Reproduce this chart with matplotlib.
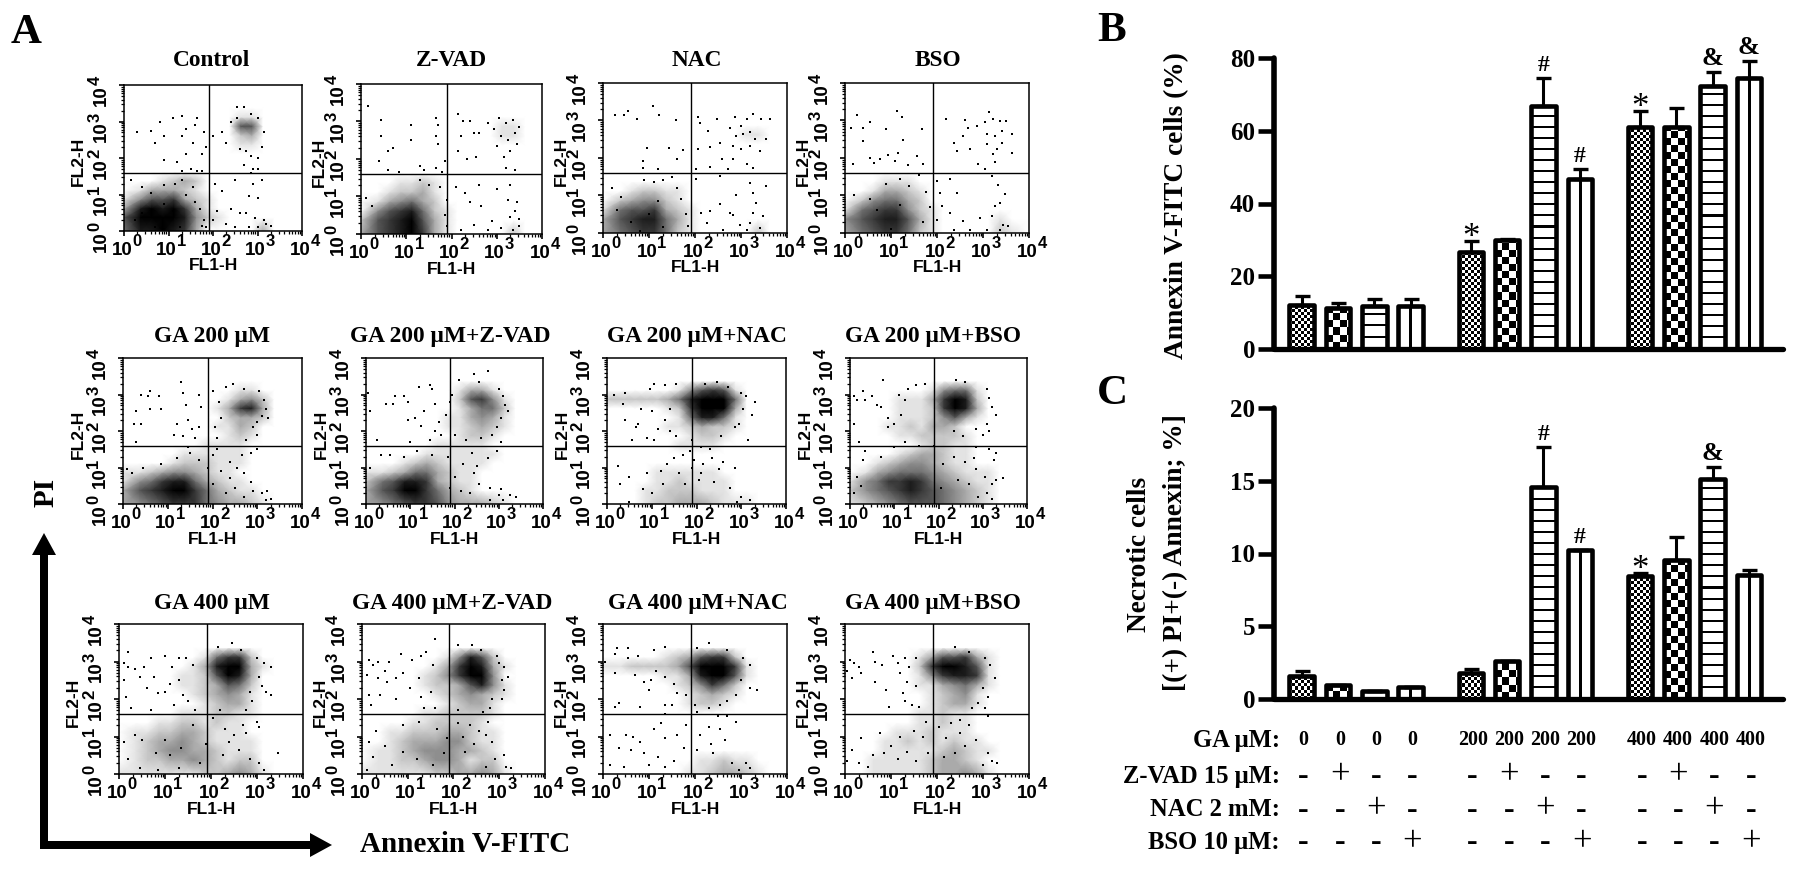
#!/usr/bin/env python3
# Flow cytometry dot plots (A) and annexin / necrosis bar charts (B, C)
import numpy as np
import matplotlib
matplotlib.use("Agg")
import matplotlib.pyplot as plt
from matplotlib.patches import FancyArrow
from matplotlib.ticker import LogLocator, NullFormatter
from matplotlib.transforms import blended_transform_factory

W, H = 1795, 869
SERIF = "Liberation Serif"
SANS = "Liberation Sans"

plt.rcParams["font.family"] = SERIF

# ---- bar chart values
annexin = [12.0, 11.3, 11.8, 11.8, 26.6, 30.1, 66.9, 46.6, 60.9, 60.9, 72.4, 74.4]
annexin_err = [2.5, 1.4, 2.0, 2.0, 3.1, 0.2, 7.6, 2.9, 4.5, 5.4, 3.8, 4.7]
annexin_marks = ["", "", "", "", "*", "", "#", "#", "*", "", "&", "&"]
necrotic = [1.57, 0.93, 0.52, 0.81, 1.8, 2.63, 14.55, 10.25, 8.45, 9.55, 15.15, 8.55]
necrotic_err = [0.33, 0.0, 0.0, 0.0, 0.25, 0.0, 2.75, 0.0, 0.2, 1.55, 0.8, 0.35]
necrotic_marks = ["", "", "", "", "", "", "#", "#", "*", "", "&", ""]
bar_fill = ["fine", "coarse", "hlines", "vlines"] * 3
bar_pos = [0, 1, 2, 3, 4.66, 5.66, 6.66, 7.66, 9.32, 10.32, 11.32, 12.32]

ga_dose = ["0", "0", "0", "0", "200", "200", "200", "200", "400", "400", "400", "400"]
zvad_flag = list("-+---+---+--")
nac_flag = list("--+---+---+-")
bso_flag = list("---+---+---+")
table_rows = ["GA \u03bcM:", "Z-VAD 15 \u03bcM:", "NAC 2 mM:", "BSO 10 \u03bcM:"]

# ---- dot plots: ink darkness (0-9) of the dense clouds, quarter decade cells,
# top row first, and the single events, both in decades (log10 of FL1, FL2)
control_ink = ["", "", "", "000000000011", "000000000066", "000000000023", "000000000011", "", "", "",
               "0001232", "0133321", "14667321", "389897310", "699998421", "5889873000003"]
control_dots = [(0.3, 2.7), (0.6, 2.75), (0.8, 3.0), (1.1, 3.1), (1.3, 3.15), (1.4, 2.8), (0.7, 2.4), (0.9, 2.6),
                (1.3, 2.6), (1.6, 2.9), (1.65, 3.1), (1.55, 2.4), (1.8, 2.7), (0.9, 1.95), (1.2, 1.9), (1.4, 2.1),
                (1.75, 2.1), (1.85, 2.3), (1.3, 1.65), (1.5, 1.7), (1.65, 1.65), (1.75, 1.65), (2.0, 2.6), (2.2, 2.7),
                (2.3, 2.4), (2.4, 3.0), (2.55, 3.4), (2.7, 3.4), (2.55, 3.1), (2.85, 3.2), (3.0, 3.1), (3.15, 2.7),
                (2.6, 2.25), (2.75, 2.2), (2.85, 2.05), (3.0, 2.0), (3.1, 2.3), (2.7, 1.8), (2.9, 1.7), (3.0, 1.7),
                (2.85, 1.6), (2.05, 1.3), (2.2, 1.1), (2.5, 1.4), (2.9, 1.3), (3.1, 1.4), (2.8, 0.95), (3.0, 0.9),
                (2.1, 0.55), (2.4, 0.6), (2.6, 0.5), (2.75, 0.5), (2.95, 0.35), (3.15, 0.3), (3.3, 0.15), (2.3, 0.2),
                (2.5, 0.1), (2.8, 0.1), (3.0, 0.1), (3.2, 0.2), (2.0, 0.3), (1.6, 0.8), (1.7, 0.6), (1.4, 1.0),
                (1.55, 1.2), (1.3, 1.4), (1.15, 1.3), (0.9, 1.25), (0.6, 1.05), (0.15, 1.4), (0.4, 1.2), (1.8, 0.3),
                (1.85, 0.1), (1.75, 0.15), (0.4, 0.5), (0.7, 0.1), (1.1, 0.55), (0.25, 0.3), (1.25, 0.1), (0.9, 0.75)]

zvad_ink = ["", "", "", "", "00000000000011", "00000000000011", "", "", "", "",
            "0001121", "0012231", "0134532", "04678521", "26789631", "36789731000002"]
zvad_dots = [(0.15, 3.4), (0.45, 3.05), (0.45, 2.6), (0.7, 2.3), (0.6, 2.2), (0.4, 1.95), (1.1, 2.9), (1.1, 2.5),
             (1.65, 3.1), (1.7, 2.9), (1.65, 2.6), (1.7, 2.4), (1.85, 1.95), (0.6, 1.7), (0.85, 1.65), (1.3, 1.8),
             (1.4, 1.7), (1.65, 1.75), (1.8, 1.65), (2.15, 3.2), (2.25, 3.0), (2.4, 3.0), (2.2, 2.6), (2.5, 2.7),
             (2.6, 2.7), (2.8, 2.95), (2.95, 2.8), (3.05, 3.1), (3.2, 2.95), (3.35, 3.05), (3.5, 2.85), (3.1, 2.6),
             (3.25, 2.5), (3.4, 2.7), (3.0, 2.35), (3.3, 2.2), (3.15, 2.05), (3.45, 2.4), (2.15, 2.2), (2.55, 2.05),
             (2.35, 2.0), (3.2, 1.75), (3.4, 1.7), (2.1, 1.25), (2.3, 1.1), (2.6, 1.3), (3.0, 1.2), (3.3, 1.3),
             (2.4, 0.85), (2.65, 0.75), (3.25, 0.9), (3.45, 0.85), (3.4, 0.6), (3.3, 0.45), (3.5, 0.4), (2.9, 0.35),
             (2.5, 0.25), (2.2, 0.1), (2.8, 0.1), (3.1, 0.15), (3.35, 0.1), (3.5, 0.2), (1.9, 0.9), (1.75, 1.25),
             (1.5, 1.3), (1.3, 1.45), (1.85, 0.5), (0.1, 0.95), (0.25, 0.75), (1.9, 0.2)]

nac_ink = ["", "", "", "", "", "00000000000011", "", "", "", "",
           "", "0012211", "0234421", "15667321", "36788531", "35677521000002"]
nac_dots = [(0.26, 3.14), (0.45, 3.14), (0.55, 3.26), (0.74, 3.05), (1.08, 3.39), (1.22, 3.14), (1.59, 3.0), (0.95, 2.26),
            (1.44, 2.26), (1.73, 2.2), (0.88, 1.92), (1.6, 1.96), (1.2, 1.7), (0.88, 1.74), (2.06, 3.1), (2.1, 2.93),
            (2.47, 3.05), (2.29, 2.72), (2.76, 2.81), (2.87, 3.08), (3.0, 2.84), (3.12, 3.03), (3.26, 3.17), (3.44, 3.03),
            (3.62, 3.05), (2.9, 2.59), (3.05, 2.63), (3.19, 2.68), (3.3, 2.5), (2.83, 2.32), (3.0, 2.23), (3.19, 2.32),
            (3.41, 2.19), (3.55, 2.5), (2.58, 1.96), (2.83, 1.96), (3.12, 1.83), (3.26, 1.74), (2.07, 2.23), (2.32, 2.28),
            (2.54, 2.41), (2.03, 1.71), (2.32, 1.77), (2.72, 1.71), (2.03, 1.43), (2.54, 1.52), (3.19, 1.34), (3.55, 1.25),
            (3.26, 1.07), (2.9, 1.0), (3.33, 0.8), (2.54, 0.76), (2.12, 0.54), (2.32, 0.58), (2.76, 0.54), (3.26, 0.54),
            (3.48, 0.45), (2.25, 0.27), (2.61, 0.09), (2.97, 0.22), (3.19, 0.27), (3.41, 0.13), (3.12, 0.07), (2.83, 0.49),
            (1.5, 1.5), (1.3, 1.4), (1.1, 1.35), (0.9, 1.4), (0.2, 1.2), (0.4, 0.95), (1.7, 0.9), (1.8, 0.5),
            (1.85, 0.2), (1.6, 1.2), (0.6, 0.3), (1.0, 0.5), (1.3, 0.15), (0.3, 0.6), (1.2, 0.85), (0.8, 0.05)]

bso_ink = ["", "", "", "", "", "", "", "", "", "",
           "0001110", "0013321", "0245532", "15677421", "46788631000001", "356775210000021"]
bso_dots = [(0.25, 3.14), (0.14, 2.79), (0.4, 2.81), (0.54, 2.96), (0.4, 2.46), (0.9, 2.77), (1.12, 3.26), (1.23, 3.08),
            (1.67, 2.77), (1.25, 2.48), (1.15, 2.14), (0.54, 2.0), (0.76, 1.96), (0.94, 2.07), (1.56, 2.05), (0.18, 1.83),
            (0.62, 1.87), (1.09, 1.92), (1.38, 1.8), (1.7, 1.83), (2.19, 3.05), (2.61, 3.02), (2.36, 2.39), (2.43, 2.19),
            (2.57, 2.59), (2.68, 2.79), (2.86, 2.84), (3.04, 2.95), (3.12, 3.23), (3.22, 3.04), (3.37, 2.99), (3.51, 2.99),
            (3.62, 2.63), (3.08, 2.63), (3.26, 2.59), (3.41, 2.72), (3.08, 2.37), (3.3, 2.23), (3.41, 2.41), (3.22, 2.1),
            (3.26, 1.88), (3.62, 2.14), (2.9, 1.83), (3.04, 1.7), (2.72, 2.23), (1.99, 1.38), (2.28, 1.43), (2.43, 1.07),
            (2.07, 1.07), (3.19, 1.52), (3.33, 1.29), (3.48, 1.03), (3.37, 0.8), (3.26, 0.71), (3.19, 0.45), (2.93, 0.4),
            (2.57, 0.31), (2.28, 0.54), (2.1, 0.71), (1.99, 0.36), (2.36, 0.09), (2.72, 0.09), (3.08, 0.07), (3.44, 0.22),
            (3.37, 0.09), (3.55, 0.18), (1.6, 1.55), (1.2, 1.45), (0.9, 1.3), (1.75, 1.1), (1.85, 0.7), (0.2, 1.0),
            (1.4, 1.25), (0.55, 0.9), (1.7, 0.3), (1.0, 0.1), (0.7, 0.6), (1.2, 0.75)]

ga200_ink = ["", "", "", "0000000000110", "0000000001342", "0000000013783", "0000000002332", "0000000011320",
             "000000000121", "00000001111", "00000111111", "00001222111", "1123443211", "14578853211",
             "367899753211", "3456777543321"]
ga200_dots = [(0.4, 3.0), (0.6, 3.1), (0.55, 2.95), (0.8, 2.95), (0.3, 2.55), (0.6, 2.6), (0.85, 2.6), (0.25, 2.2),
              (0.4, 2.2), (1.3, 3.35), (1.35, 3.05), (1.4, 2.7), (1.7, 3.0), (1.75, 2.65), (1.2, 2.2), (1.45, 2.3),
              (1.55, 2.05), (1.7, 2.1), (1.15, 1.9), (1.35, 1.85), (1.6, 1.8), (0.3, 1.7), (2.0, 3.1), (2.15, 2.8),
              (2.3, 3.2), (2.45, 3.3), (2.7, 3.15), (3.05, 3.1), (3.15, 2.85), (3.2, 2.6), (3.1, 2.4), (3.25, 2.35),
              (2.2, 2.35), (2.05, 2.1), (2.9, 2.1), (3.0, 2.25), (2.1, 1.8), (2.75, 1.75), (3.0, 1.9), (3.0, 1.5),
              (2.65, 1.35), (2.85, 1.4), (2.4, 1.15), (2.1, 1.5), (2.55, 1.0), (2.7, 0.85), (2.4, 0.7), (2.2, 0.9),
              (2.85, 0.6), (2.9, 0.35), (3.1, 0.3), (3.2, 0.1), (3.3, 0.15), (3.22, 0.35), (2.5, 0.45), (2.7, 0.2),
              (2.0, 0.55), (2.3, 0.3), (1.9, 1.0), (1.5, 1.4), (1.2, 1.25), (0.85, 1.1), (0.45, 1.0), (0.2, 0.85),
              (0.1, 0.95), (2.0, 1.35), (1.7, 1.2), (1.45, 1.55)]

ga200z_ink = ["", "", "", "000000001331", "0000000026741", "0000000013552", "0000000113431", "0000000112321",
              "000000001221", "00000011111", "000001111111", "00012321111", "1123553211", "2568873211",
              "3679975321", "3456776433321"]
ga200z_dots = [(0.05, 3.05), (0.45, 2.75), (0.6, 2.75), (0.65, 2.95), (0.85, 2.95), (0.95, 2.8), (1.2, 3.2), (1.45, 3.25),
               (1.5, 3.15), (1.55, 2.75), (1.3, 2.55), (1.1, 2.35), (0.95, 2.3), (0.1, 2.55), (0.25, 1.75), (1.25, 2.15),
               (1.55, 2.0), (1.65, 2.25), (1.7, 1.9), (1.45, 1.75), (1.0, 1.7), (1.8, 2.45), (1.9, 2.8), (1.95, 3.0),
               (2.1, 3.4), (2.45, 3.55), (2.75, 3.65), (2.55, 3.35), (3.0, 3.15), (3.1, 2.95), (3.15, 2.7), (3.2, 2.55),
               (3.05, 2.35), (2.95, 2.1), (2.85, 1.9), (3.05, 1.7), (2.0, 1.9), (2.25, 1.75), (2.6, 1.8), (2.4, 1.4),
               (2.75, 1.25), (2.95, 1.45), (2.5, 1.05), (2.2, 1.1), (2.45, 0.85), (2.0, 0.75), (2.55, 0.55), (2.8, 0.45),
               (3.05, 0.4), (3.25, 0.25), (3.4, 0.2), (3.1, 0.1), (2.8, 0.1), (3.0, 0.25), (2.35, 0.3), (1.85, 1.3),
               (1.5, 1.35), (1.15, 1.45), (0.85, 1.3), (0.55, 1.35), (0.35, 1.35), (0.1, 1.0), (1.9, 0.45), (2.15, 0.35)]

ga200n_ink = ["", "", "", "000000146761", "222223589995", "000001279993", "000000158851", "000001123221",
              "00000001221", "0000001111", "", "", "0000111111", "00001121111", "000112221110", "0001223332111"]
ga200n_dots = [(0.15, 3.0), (0.4, 3.05), (0.95, 3.15), (1.05, 3.3), (1.3, 3.25), (1.55, 3.3), (0.35, 2.75), (0.75, 2.6),
               (1.0, 2.55), (1.4, 2.6), (0.4, 2.3), (0.7, 2.2), (0.65, 2.1), (1.3, 2.3), (1.15, 2.05), (1.4, 2.0),
               (0.55, 1.75), (0.9, 1.8), (1.05, 1.75), (1.55, 1.85), (2.2, 3.3), (2.45, 3.35), (2.7, 3.2), (3.0, 3.05),
               (3.1, 2.95), (3.3, 2.8), (3.05, 2.6), (3.25, 2.45), (2.95, 2.2), (2.85, 2.1), (3.15, 1.75), (2.55, 1.85),
               (1.9, 1.75), (2.1, 1.55), (2.3, 1.5), (1.85, 1.45), (2.35, 1.25), (2.6, 1.15), (2.85, 1.0), (2.5, 0.95),
               (2.15, 1.1), (1.95, 1.2), (1.7, 1.35), (1.5, 1.25), (1.35, 1.1), (1.6, 0.85), (1.2, 0.9), (0.9, 0.85),
               (0.25, 1.05), (0.5, 0.75), (0.3, 0.55), (0.8, 0.4), (1.0, 0.3), (1.25, 0.55), (1.75, 0.55), (2.05, 0.65),
               (2.4, 0.6), (2.75, 0.45), (3.0, 0.2), (3.2, 0.1), (2.9, 0.05), (0.5, 0.05), (1.9, 1.0), (2.1, 0.85)]

ga200b_ink = ["", "", "", "000000014551", "000011137982", "000011127983", "0000111246310", "0001121332",
              "00001122221", "00000012211", "00001233211", "00123443211", "0134555432111", "1457787543211",
              "2456787654321", "1234566654321"]
ga200b_dots = [(0.1, 2.95), (0.15, 2.85), (0.3, 3.1), (0.35, 2.85), (0.5, 2.95), (0.6, 2.7), (0.75, 3.4), (1.3, 3.15),
               (1.1, 3.0), (0.7, 2.65), (0.85, 2.35), (0.85, 2.1), (1.0, 2.2), (1.15, 2.45), (1.25, 2.85), (1.5, 3.25),
               (1.7, 3.3), (0.1, 2.2), (0.2, 1.7), (0.35, 1.45), (0.3, 1.2), (2.4, 3.4), (2.6, 3.35), (3.1, 3.15),
               (3.15, 2.9), (3.2, 2.65), (3.3, 2.45), (3.1, 2.2), (3.15, 2.0), (3.0, 1.9), (2.85, 2.05), (2.35, 2.0),
               (2.55, 1.85), (2.85, 1.55), (3.15, 1.5), (3.3, 1.4), (2.8, 1.25), (2.6, 1.15), (2.35, 1.3), (2.1, 1.1),
               (2.85, 0.95), (3.05, 0.75), (3.2, 0.55), (3.3, 0.65), (3.1, 0.3), (2.7, 0.55), (2.45, 0.65), (2.9, 0.2),
               (3.2, 0.15), (1.9, 1.6), (1.55, 1.6), (1.25, 1.7), (1.0, 1.55), (0.7, 1.3), (0.15, 0.75), (0.25, 0.5),
               (0.1, 0.3), (3.45, 0.7), (3.25, 1.2), (2.05, 0.45)]

ga400_ink = ["", "", "", "000000015772", "0000001389931", "000001126983", "000001123652", "0000001234310",
             "000000012331", "000001112211", "00011221211", "01122332111", "012334321111", "012344332111",
             "012233432122", "1111111223431"]
ga400_dots = [(0.2, 3.25), (0.1, 2.95), (0.2, 2.85), (0.35, 2.8), (0.55, 2.85), (0.7, 3.1), (0.75, 2.6), (1.0, 3.15),
              (1.15, 2.85), (1.3, 3.1), (1.45, 3.1), (1.6, 2.9), (1.1, 2.4), (1.3, 2.5), (0.6, 2.3), (0.85, 2.15),
              (1.0, 2.2), (0.45, 2.6), (0.1, 2.5), (0.15, 2.05), (0.25, 1.75), (0.7, 1.7), (1.4, 2.1), (1.5, 1.95),
              (1.2, 1.85), (1.65, 1.7), (2.15, 3.4), (2.45, 3.5), (2.65, 3.3), (3.0, 3.1), (3.15, 2.95), (3.3, 2.85),
              (3.05, 2.6), (3.1, 2.35), (3.2, 2.2), (3.3, 2.1), (2.85, 2.2), (2.9, 1.95), (2.75, 1.7), (3.0, 1.4),
              (3.05, 1.25), (2.7, 1.3), (2.5, 1.05), (2.3, 1.2), (2.75, 1.1), (2.4, 0.85), (2.6, 0.65), (2.25, 0.5),
              (2.85, 0.4), (3.05, 0.3), (3.15, 0.1), (3.45, 0.55), (2.05, 1.5), (2.2, 1.7), (0.35, 1.05), (0.1, 0.85),
              (0.5, 0.9), (0.2, 0.4), (0.45, 0.15), (0.85, 0.1), (1.3, 0.15), (1.75, 0.3), (1.9, 0.8), (1.6, 1.3),
              (0.8, 0.55), (1.1, 0.5), (1.35, 0.7), (1.0, 0.9)]

ga400z_ink = ["", "", "", "0000000148620", "0000001379831", "000001247994", "0000012236841", "0000001234321",
              "000000012331", "000001122221", "000011222210", "001122233211", "001233344211", "011234443321",
              "011223443122", "1111112233431"]
ga400z_dots = [(1.6, 3.6), (0.15, 3.05), (0.25, 2.9), (0.35, 3.0), (0.5, 2.75), (0.6, 3.0), (0.1, 2.65), (0.35, 2.55),
               (0.55, 2.45), (0.75, 2.55), (0.85, 3.2), (1.1, 3.05), (1.3, 3.15), (1.4, 3.25), (0.9, 2.7), (1.25, 2.55),
               (1.55, 2.9), (1.05, 2.3), (0.75, 2.0), (0.4, 2.1), (0.15, 2.1), (0.2, 1.85), (1.3, 2.05), (1.5, 2.2),
               (1.35, 1.75), (1.6, 1.75), (2.1, 3.45), (2.4, 3.45), (2.6, 3.3), (2.95, 3.15), (3.0, 2.95), (3.1, 2.85),
               (3.2, 2.6), (3.05, 2.5), (3.1, 2.25), (3.05, 2.0), (2.85, 2.0), (2.8, 1.75), (2.65, 1.65), (2.75, 1.4),
               (2.55, 1.15), (2.7, 1.05), (2.35, 1.3), (2.1, 1.35), (2.2, 1.0), (2.45, 0.8), (2.25, 0.6), (2.85, 0.85),
               (2.9, 0.4), (2.7, 0.2), (3.1, 0.5), (3.15, 0.2), (3.25, 0.15), (2.1, 1.7), (0.3, 1.15), (0.15, 0.85),
               (0.5, 0.75), (0.25, 0.45), (0.1, 0.1), (0.65, 0.25), (0.9, 0.6), (1.2, 0.4), (1.55, 0.25), (1.8, 0.55),
               (1.85, 0.95), (1.65, 1.2), (1.25, 1.4), (0.9, 1.3)]

ga400n_ink = ["", "", "", "000001236772", "1122223699971", "0000011389961", "000000124752",
              "000000012321", "00000001221", "", "", "", "", "", "0000000011211", "00000001123321"]
ga400n_dots = [(0.3, 3.35), (0.55, 3.35), (0.05, 3.0), (0.25, 3.2), (0.55, 3.1), (0.75, 3.15), (1.1, 3.3), (1.35, 3.4),
               (0.7, 2.65), (0.25, 2.7), (0.9, 2.45), (1.05, 2.5), (1.15, 2.75), (1.35, 2.6), (1.55, 2.4), (0.35, 1.9),
               (0.25, 1.8), (0.8, 1.8), (1.0, 2.25), (1.35, 1.85), (1.5, 1.85), (1.35, 1.6), (1.6, 2.15), (1.8, 2.1),
               (2.05, 3.35), (2.3, 3.5), (2.7, 3.3), (3.05, 3.1), (3.2, 2.9), (3.0, 2.5), (3.2, 2.3), (3.35, 2.25),
               (2.9, 2.1), (2.7, 1.95), (2.55, 1.85), (2.3, 1.75), (2.0, 1.85), (2.05, 1.65), (2.5, 1.55), (2.7, 1.55),
               (2.9, 1.4), (2.3, 1.25), (2.1, 1.05), (2.55, 1.2), (2.65, 0.9), (2.35, 0.8), (2.05, 0.65), (2.4, 0.55),
               (2.8, 0.3), (3.1, 0.3), (3.2, 0.15), (2.95, 0.1), (0.15, 1.05), (0.5, 1.05), (0.65, 1.0), (0.8, 0.85),
               (0.6, 0.65), (0.35, 0.7), (0.15, 0.25), (0.45, 0.2), (0.9, 0.55), (1.2, 0.45), (1.0, 0.25), (1.35, 0.2),
               (1.55, 0.35), (1.75, 0.7), (1.35, 0.95), (1.1, 1.2), (1.25, 1.35), (1.8, 1.3), (1.6, 1.05)]

ga400b_ink = ["", "", "", "0000001366731", "0000002799861", "0000001478871", "0000001134531", "000000012341",
              "000000012331", "00000011211", "00000011211", "00001112111", "000112121211", "0001111123211",
              "001111123321", "0011111233431"]
ga400b_dots = [(0.1, 3.05), (0.2, 2.95), (0.3, 2.85), (0.05, 2.75), (0.15, 2.55), (0.35, 2.7), (0.6, 3.25), (0.65, 3.0),
               (0.8, 2.9), (1.05, 3.15), (1.15, 2.95), (1.3, 3.1), (1.4, 2.85), (1.55, 3.1), (0.65, 2.45), (1.2, 2.7),
               (1.35, 2.45), (0.9, 2.25), (1.25, 2.15), (1.55, 2.35), (1.3, 1.95), (1.45, 1.85), (1.6, 1.8), (0.95, 1.8),
               (2.4, 3.4), (2.7, 3.25), (3.05, 3.1), (3.15, 2.9), (3.25, 2.55), (3.0, 2.3), (3.1, 2.05), (2.9, 1.9),
               (2.75, 1.75), (3.05, 1.75), (3.1, 1.55), (2.5, 1.45), (2.7, 1.3), (2.3, 1.35), (2.05, 1.25), (2.5, 1.1),
               (2.2, 0.95), (2.6, 0.75), (2.85, 0.9), (3.1, 0.55), (3.2, 0.35), (3.3, 0.3), (3.0, 0.25), (2.4, 0.55),
               (2.15, 0.45), (0.35, 0.95), (0.15, 0.65), (0.3, 0.3), (0.5, 0.2), (0.05, 0.35), (0.85, 0.55), (0.75, 1.1),
               (1.0, 0.75), (1.2, 1.0), (1.35, 0.6), (1.15, 0.4), (1.5, 1.15), (1.7, 1.0), (1.55, 0.35), (1.8, 0.55),
               (1.75, 1.4), (0.6, 0.5)]

flow_titles = ["Control", "Z-VAD", "NAC", "BSO",
               "GA 200 \u03bcM", "GA 200 \u03bcM+Z-VAD", "GA 200 \u03bcM+NAC", "GA 200 \u03bcM+BSO",
               "GA 400 \u03bcM", "GA 400 \u03bcM+Z-VAD", "GA 400 \u03bcM+NAC", "GA 400 \u03bcM+BSO"]
flow_inks = [control_ink, zvad_ink, nac_ink, bso_ink, ga200_ink, ga200z_ink, ga200n_ink, ga200b_ink,
             ga400_ink, ga400z_ink, ga400n_ink, ga400b_ink]
flow_dots = [control_dots, zvad_dots, nac_dots, bso_dots, ga200_dots, ga200z_dots, ga200n_dots, ga200b_dots,
             ga400_dots, ga400z_dots, ga400n_dots, ga400b_dots]
quad_x, quad_y = 80, 40
decades = [0, 1, 2, 3, 4]

# panel boxes in image pixels: left, right, top, bottom, FL2-H offset
flow_boxes = [(124, 302, 85, 231, 46), (361, 542, 84, 234, 42), (603, 787, 83, 233, 42), (845, 1029, 83, 233, 42),
              (123, 302, 358, 504, 45), (366, 543, 358, 504, 45), (607, 786, 358, 504, 45), (850, 1027, 358, 504, 45),
              (119, 303, 624, 774, 46), (362, 545, 624, 774, 42), (603, 787, 624, 774, 42), (845, 1029, 624, 774, 42)]
title_xy = [(212, 66), (451, 66), (697, 66), (938, 66),
            (212, 342), (450, 342), (697, 342), (933, 342),
            (212, 609), (452, 609), (698, 609), (933, 609)]


def px_axes(fig, left, right, top, bottom):
    return fig.add_axes([left / W, 1 - bottom / H, (right - left) / W, (bottom - top) / H])


def decade_labels(ax):
    # FACS style tick labels, the exponent nearly as big as the 10
    font = dict(family=SANS, fontweight="bold", annotation_clip=False)
    for d in decades:
        tick = 10.0 ** d
        ax.annotate("10", (tick, 0), xycoords=ax.get_xaxis_transform(), xytext=(6, -8), textcoords="offset points",
                    ha="right", va="top", fontsize=13.5, **font)
        ax.annotate(str(d), (tick, 0), xycoords=ax.get_xaxis_transform(), xytext=(6, -2.5), textcoords="offset points",
                    ha="left", va="top", fontsize=12, **font)
        ax.annotate("10", (0, tick), xycoords=ax.get_yaxis_transform(), xytext=(-10.5, 0), textcoords="offset points",
                    ha="right", va="top", rotation=90, fontsize=13.5, **font)
        ax.annotate(str(d), (0, tick), xycoords=ax.get_yaxis_transform(), xytext=(-15.5, 0), textcoords="offset points",
                    ha="right", va="bottom", rotation=90, fontsize=12, **font)


def flow_panel(fig, bg, box, title, title_pos, ink, dots):
    left, right, top, bottom, ylab_off = box
    ax = px_axes(fig, left, right, top, bottom)
    ax.set_xscale("log")
    ax.set_yscale("log")

    grid = np.array([[int(c) for c in row.ljust(16, "0")] for row in ink[::-1]])
    nodes = (np.arange(16) + 0.5) / 4
    nodes[0], nodes[-1] = 0, 4
    ax.pcolormesh(10 ** nodes, 10 ** nodes, grid, shading="gouraud", cmap="gray_r", vmin=0, vmax=9,
                  rasterized=True, zorder=1)

    xs, ys = zip(*dots)
    ax.scatter(10 ** np.array(xs), 10 ** np.array(ys), s=3.4, marker="s", c="k", linewidths=0, zorder=2)
    ax.axvline(quad_x, color="k", lw=1.0, zorder=3)
    ax.axhline(quad_y, color="k", lw=1.0, zorder=3)
    ax.set_xlim(1, 1e4)
    ax.set_ylim(1, 1e4)

    ticks = [10.0 ** d for d in decades]
    ax.set_xticks(ticks, [""] * len(ticks))
    ax.set_yticks(ticks, [""] * len(ticks))
    for axis in (ax.xaxis, ax.yaxis):
        axis.set_minor_locator(LogLocator(base=10, subs=range(2, 10), numticks=10))
        axis.set_minor_formatter(NullFormatter())
    ax.tick_params(which="major", length=3.5, width=1.2)
    ax.tick_params(which="minor", length=2, width=0.9)
    for s in ax.spines.values():
        s.set_linewidth(1.1)
    decade_labels(ax)

    bg.text(title_pos[0], title_pos[1], title, fontsize=16.8, fontweight="bold", ha="center", va="baseline")
    bg.text((left + right) / 2, bottom + 35, "FL1-H", family=SANS, fontsize=12.5, fontweight="bold",
            ha="center", va="center")
    bg.text(left - ylab_off, (top + bottom) / 2 + 3, "FL2-H", family=SANS, fontsize=12.5, fontweight="bold",
            rotation=90, ha="center", va="center")


def fill_cells(kind, w, h):
    jj, ii = np.indices((h, w))
    if kind == "fine":
        return ((ii // 3 + jj // 3) % 2).astype(float)
    if kind == "coarse":
        return ((ii // 7 + jj // 7) % 2).astype(float)
    if kind == "hlines":
        return (jj % 11 < 2).astype(float)
    return (np.abs(ii - w // 2) < 1.5).astype(float)


def bar_chart(ax, values, errs, marks, yticks, ymax):
    ppu = ax.get_position().height * H / ymax
    bar_w = 0.675
    for x, v, kind in zip(bar_pos, values, bar_fill):
        cells = fill_cells(kind, 25, max(int(v * ppu), 1))
        ax.imshow(cells, extent=(x - bar_w / 2, x + bar_w / 2, 0, v), origin="lower", aspect="auto",
                  cmap="gray_r", vmin=0, vmax=1, interpolation="nearest", zorder=1)
    ax.bar(bar_pos, values, width=bar_w, facecolor="none", edgecolor="k", linewidth=3.3,
           joinstyle="round", zorder=3)
    ax.errorbar(bar_pos, values, yerr=[np.zeros(12), errs], fmt="none", ecolor="k", elinewidth=2.2,
                capsize=5.4, capthick=2.4, zorder=2)
    for x, v, e, m in zip(bar_pos, values, errs, marks):
        if not m:
            continue
        off = {"#": 5, "&": 5, "*": -4}[m]
        ax.annotate(m, (x, v + e), xytext=(0, off), textcoords="offset points", ha="center", va="baseline",
                    fontsize={"#": 17, "&": 19, "*": 25}[m], fontweight="bold" if m in "&#" else "normal",
                    annotation_clip=False)
    ax.set_xlim((1274 - 1301.7) / 36.3, (1783 - 1301.7) / 36.3)
    ax.set_ylim(0, ymax)
    ax.set_yticks(yticks)
    ax.set_xticks([])
    ax.tick_params(axis="y", length=11.5, width=3.3, pad=2, labelsize=18)
    for lab in ax.get_yticklabels():
        lab.set_fontweight("bold")
    ax.spines["top"].set_visible(False)
    ax.spines["right"].set_visible(False)
    ax.spines["left"].set_linewidth(4)
    ax.spines["bottom"].set_linewidth(3.8)
    ax.spines["left"].set_capstyle("round")
    ax.spines["bottom"].set_capstyle("round")


def main():
    fig = plt.figure(figsize=(W / 100, H / 100), dpi=100)
    bg = fig.add_axes([0, 0, 1, 1])
    bg.set_xlim(0, W)
    bg.set_ylim(H, 0)
    bg.axis("off")

    for box, title, pos, ink, dots in zip(flow_boxes, flow_titles, title_xy, flow_inks, flow_dots):
        flow_panel(fig, bg, box, title, pos, ink, dots)

    ax_b = px_axes(fig, 1274, 1783, 58, 349)
    bar_chart(ax_b, annexin, annexin_err, annexin_marks, [0, 20, 40, 60, 80], 80)
    ax_c = px_axes(fig, 1274, 1783, 408, 699)
    bar_chart(ax_c, necrotic, necrotic_err, necrotic_marks, [0, 5, 10, 15, 20], 20)

    # panel letters and axis titles
    for letter, x, y in [("A", 11, 43), ("B", 1097, 41), ("C", 1097, 404)]:
        bg.text(x, y, letter, fontsize=31, fontweight="bold", ha="left", va="baseline")
    bg.text(1177, 206, "Annexin V-FITC cells (%)", fontsize=19.7, fontweight="bold", rotation=90,
            ha="center", va="center")
    bg.text(1139, 554, "Necrotic cells", fontsize=19.7, fontweight="bold", rotation=90, ha="center", va="center")
    bg.text(1176, 553, "[(+) PI+(-) Annexin; %]", fontsize=19.7, fontweight="bold", rotation=90,
            ha="center", va="center")
    bg.text(465, 844, "Annexin V-FITC", fontsize=21, fontweight="bold", ha="center", va="center")
    bg.text(46, 492, "PI", fontsize=21, fontweight="bold", rotation=90, ha="center", va="center")

    bg.add_patch(FancyArrow(44, 849, 0, -316, width=8, head_width=24, head_length=22,
                            length_includes_head=True, color="k", lw=0))
    bg.add_patch(FancyArrow(40, 845, 292, 0, width=8, head_width=24, head_length=22,
                            length_includes_head=True, color="k", lw=0))

    # treatment table under panel C
    trans = blended_transform_factory(ax_c.transData, bg.transData)
    row_y = [740, 776, 810, 843]
    for label, y in zip(table_rows, row_y):
        bg.text(1280, y, label, fontsize=17.7, fontweight="bold", ha="right", va="center")
    for x, dose in zip(bar_pos, ga_dose):
        ax_c.text(x + 0.05, row_y[0], dose, transform=trans, fontsize=14.4, fontweight="bold",
                  ha="center", va="center", clip_on=False)
    for flags, y in zip([zvad_flag, nac_flag, bso_flag], row_y[1:]):
        for x, f in zip(bar_pos, flags):
            if f == "+":
                ax_c.text(x + 0.05, y, "+", transform=trans, fontsize=25, ha="center", va="center", clip_on=False)
            else:
                ax_c.text(x + 0.05, y, "-", transform=trans, fontsize=23, fontweight="bold",
                          ha="center", va="center", clip_on=False)

    fig.savefig("out.png", dpi=100)


if __name__ == "__main__":
    main()
